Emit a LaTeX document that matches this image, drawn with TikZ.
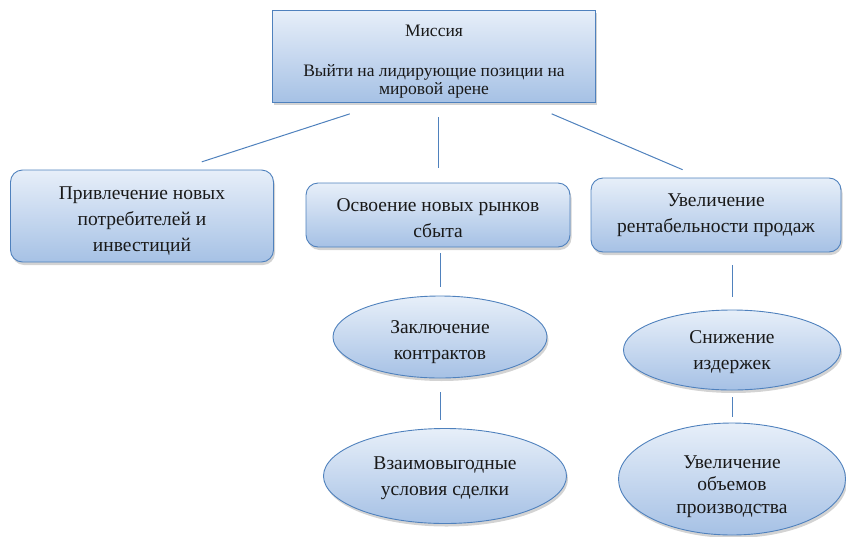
\documentclass[tikz,border=0pt]{standalone}
\usepackage{fontspec}
\setmainfont{Liberation Serif}
\newfontfamily\boxfont{Liberation Serif}
\usetikzlibrary{positioning,shapes.geometric,shadows}
\definecolor{edgeblue}{RGB}{79,129,189}
\definecolor{topfill}{RGB}{231,239,249}
\definecolor{botfill}{RGB}{166,193,229}
\tikzstyle{block} = [draw=edgeblue, line width=0.9pt, top color=topfill, bottom color=botfill, align=center, text=black!90, inner sep=0pt, font=\boxfont\fontsize{19.5}{26}\selectfont, drop shadow={shadow xshift=1.5pt, shadow yshift=-3pt, opacity=0.35}]
\tikzstyle{rblock} = [block, rounded corners=12pt]
\tikzstyle{oval} = [block, ellipse]
\tikzstyle{link} = [draw=edgeblue, line width=1pt]
\newcommand{\sink}[1]{\rule{0pt}{#1}}

\begin{document}
\begin{tikzpicture}[x=1pt, y=-1pt]
        \useasboundingbox (0,0) rectangle (846,536);
        %Blocks
        \node [block, minimum width=323pt, minimum height=92pt, font=\boxfont\fontsize{17.5}{18}\selectfont] (mission) at (434,56) {\sink{23.5pt}Миссия\\[22pt]Выйти на лидирующие позиции на\\мировой арене};
        \node [rblock, minimum width=263pt, minimum height=92pt] (attract) at (142,216) {\sink{23pt}Привлечение новых\\потребителей и\\инвестиций};
        \node [rblock, minimum width=264pt, minimum height=64pt] (markets) at (438,215) {\sink{20pt}Освоение новых рынков\\сбыта};
        \node [rblock, minimum width=250pt, minimum height=74pt] (profit) at (716,215) {Увеличение\\рентабельности продаж};
        \node [oval, minimum width=214pt, minimum height=82pt] (contracts) at (440,337) {\sink{23pt}Заключение\\контрактов};
        \node [oval, minimum width=243pt, minimum height=95pt] (terms) at (445,476) {\sink{18pt}Взаимовыгодные\\условия сделки};
        \node [oval, minimum width=217pt, minimum height=80pt] (costs) at (732,350) {\sink{18pt}Снижение\\издержек};
        \node [oval, minimum width=227pt, minimum height=112pt, font=\boxfont\fontsize{19.5}{22.5}\selectfont] (volume) at (732,479) {\sink{28pt}Увеличение\\объемов\\производства};
        %Lines
        \draw[link, shorten <=37pt, shorten >=25pt] ([xshift=-49pt]mission.south) -- ([xshift=36pt]attract.north);
        \draw[link, shorten <=15pt, shorten >=15pt] (markets.north |- mission.south) -- (markets.north);
        \draw[link, shorten <=29pt, shorten >=20pt] ([xshift=91pt]mission.south) -- ([xshift=-15pt]profit.north);
        \draw[link, shorten <=6pt, shorten >=9pt] (markets.south -| contracts.north) -- (contracts.north);
        \draw[link, shorten <=14pt, shorten >=8pt] (contracts.south) -- (contracts.south |- terms.north);
        \draw[link, shorten <=13pt, shorten >=13pt] (costs.north |- profit.south) -- (costs.north);
        \draw[link, shorten <=7pt, shorten >=6pt] (costs.south) -- (costs.south |- volume.north);
\end{tikzpicture}
\end{document}
